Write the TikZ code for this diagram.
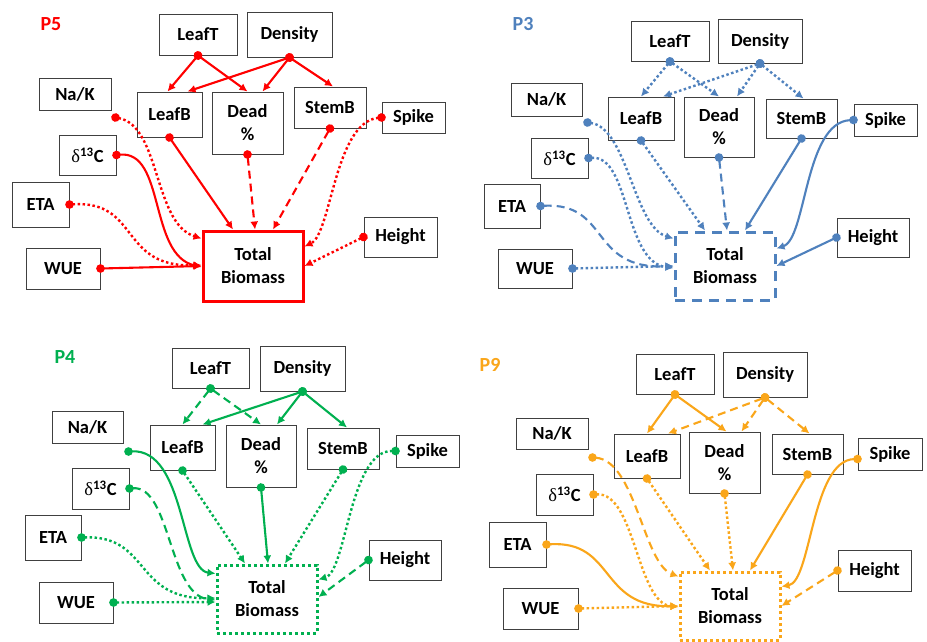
\documentclass[tikz,border=0pt]{standalone}
\usepackage{fontspec}
\setmainfont{Carlito}
\newfontfamily\dltfont{Liberation Serif}
\usetikzlibrary{arrows.meta}
\definecolor{cPfive}{RGB}{255,0,0}
\definecolor{cPthree}{RGB}{79,129,189}
\definecolor{cPfour}{RGB}{0,176,80}
\definecolor{cPnine}{RGB}{250,166,26}
\newcommand\boxfont{\fontsize{18.5}{23}\selectfont\bfseries}
\newcommand\dC{{\dltfont\mdseries δ}\textsuperscript{13}C}
\begin{document}
\begin{tikzpicture}[x=1pt,y=-1pt,
  box/.style={draw=black!75, line width=1pt, fill=white, text=black, align=center, inner sep=0pt, font=\boxfont},
  bx/.style n args={2}{box, minimum width=#1pt, minimum height=#2pt},
  tot/.style={line width=3pt},
  plab/.style={font=\fontsize{20}{20}\selectfont\bfseries},
  con/.style={line width=2.1pt, arrows={Circle[length=8.5pt]-Latex[length=8pt,width=8pt]}, shorten <=-4.25pt},
  sol/.style={con},
  dsh/.style={con, dash pattern=on 8pt off 5pt},
  dtt/.style={con, line width=2.4pt, dash pattern=on 2.5pt off 2.5pt}]
\fill[white] (0,0) rectangle (927,641);
\useasboundingbox (0,0) rectangle (927,641);

% ---------------- P5 ----------------
\node[plab, text=cPfive] (labA) at (51,24) {P5};
\node[bx={78}{41}] (aLeafT) at (198,34.5) {LeafT};
\node[bx={85}{45}] (aDens) at (289.5,34.5) {Density};
\node[bx={72}{32}] (aNaK) at (75,94) {Na/K};
\node[bx={65}{45}] (aLeafB) at (169.5,114.5) {LeafB};
\node[bx={71}{62}] (aDead) at (247.5,123) {Dead\\\%};
\node[bx={72}{41}] (aStemB) at (330,107.5) {StemB};
\node[bx={63}{31}] (aSpike) at (413.5,117.5) {Spike};
\node[bx={57}{40}] (aC) at (87.5,155) {\dC};
\node[bx={57}{45}] (aETA) at (40.5,204.5) {ETA};
\node[bx={74}{41}] (aWUE) at (63,268.5) {WUE};
\node[bx={100}{70}, tot, draw=cPfive] (aTot) at (253,266) {Total\\Biomass};
\node[bx={73}{40}] (aH) at (400.5,237) {Height};
\begin{scope}[color=cPfive]
\draw[sol] (aLeafT.south) -- ([xshift=-2pt]aLeafB.north);
\draw[sol] (aLeafT.south) -- (aDead.north);
\draw[sol] (aDens.south) -- ([xshift=18pt]aLeafB.north);
\draw[sol] (aDens.south) -- ([xshift=15pt]aDead.north);
\draw[sol] (aDens.south) -- ([xshift=3pt]aStemB.north);
\draw[dtt] ([xshift=4pt,yshift=-7pt]aNaK.south east) .. controls +(45,8) and +(-48,-15) .. ([yshift=-9pt]aTot.north west);
\draw[sol] (aLeafB.south) -- ([xshift=-20pt]aTot.north);
\draw[dsh] (aDead.south) -- ([xshift=2pt]aTot.north);
\draw[dsh] (aStemB.south) -- ([xshift=20pt]aTot.north);
\draw[dtt] (aSpike.west) .. controls +(-47,4.5) and +(27,-13) .. ([yshift=-17pt]aTot.north east);
\draw[sol] (aC.east) .. controls +(49,-5) and +(-53,-12) .. ([yshift=-1pt]aTot.west);
\draw[dtt] (aETA.east) .. controls +(71,-4.5) and +(-83,3) .. ([yshift=1pt]aTot.west);
\draw[sol] (aWUE.east) -- (aTot.west);
\draw[dtt] (aH.west) -- (aTot.east);
\end{scope}

% ---------------- P3 ----------------
\node[plab, text=cPthree] (labB) at (523,24) {P3};
\node[bx={78}{40}] (bLeafT) at (670,41) {LeafT};
\node[bx={84}{44}] (bDens) at (760,41) {Density};
\node[bx={71}{33}] (bNaK) at (546.5,99.5) {Na/K};
\node[bx={66}{43}] (bLeafB) at (641,118.5) {LeafB};
\node[bx={70}{60}] (bDead) at (719,127) {Dead\\\%};
\node[bx={71}{39}] (bStemB) at (801.5,118.5) {StemB};
\node[bx={63}{32}] (bSpike) at (885.5,120) {Spike};
\node[bx={57}{40}] (bC) at (559.5,158) {\dC};
\node[bx={56}{44}] (bETA) at (512,206) {ETA};
\node[bx={74}{39}] (bWUE) at (535,268.5) {WUE};
\node[bx={100}{68}, tot, draw=cPthree, dash pattern=on 10pt off 7pt] (bTot) at (725,266) {Total\\Biomass};
\node[bx={72}{39}] (bH) at (873,237.5) {Height};
\begin{scope}[color=cPthree]
\draw[dtt] (bLeafT.south) -- (bLeafB.north);
\draw[dtt] (bLeafT.south) -- (bDead.north);
\draw[dtt] (bDens.south) -- ([xshift=22pt]bLeafB.north);
\draw[dtt] (bDens.south) -- ([xshift=18pt]bDead.north);
\draw[dtt] (bDens.south) -- ([xshift=2pt]bStemB.north);
\draw[dtt] ([xshift=5pt,yshift=-6pt]bNaK.south east) .. controls +(40,5) and +(-40,-12) .. ([yshift=-8pt]bTot.north west);
\draw[dtt] (bLeafB.south) -- ([xshift=-20pt]bTot.north);
\draw[dsh] (bDead.south) -- ([xshift=2pt]bTot.north);
\draw[sol] (bStemB.south) -- ([xshift=20pt]bTot.north);
\draw[sol] (bSpike.west) .. controls +(-49,2) and +(30,-10) .. ([yshift=-18pt]bTot.north east);
\draw[dtt] (bC.east) .. controls +(42,-3) and +(-50,-6) .. ([yshift=-2pt]bTot.west);
\draw[dsh] (bETA.east) .. controls +(70,-4) and +(-85,4) .. (bTot.west);
\draw[dtt] (bWUE.east) -- (bTot.west);
\draw[sol] (bH.west) -- (bTot.east);
\end{scope}

% ---------------- P4 ----------------
\node[plab, text=cPfour] (labC) at (65,357) {P4};
\node[bx={77}{40}] (cLeafT) at (210.5,368) {LeafT};
\node[bx={85}{45}] (cDens) at (302.5,368.5) {Density};
\node[bx={71}{32}] (cNaK) at (87.5,427) {Na/K};
\node[bx={65}{45}] (cLeafB) at (182.5,447.5) {LeafB};
\node[bx={70}{62}] (cDead) at (261,456) {Dead\\\%};
\node[bx={72}{41}] (cStemB) at (343,448.5) {StemB};
\node[bx={63}{32}] (cSpike) at (427.5,451) {Spike};
\node[bx={57}{41}] (cC) at (100.5,488.5) {\dC};
\node[bx={56}{45}] (cETA) at (53,537.5) {ETA};
\node[bx={74}{41}] (cWUE) at (76,602.5) {WUE};
\node[bx={100}{68}, tot, draw=cPfour, dash pattern=on 3pt off 3pt] (cTot) at (267,599) {Total\\Biomass};
\node[bx={72}{40}] (cH) at (405,560) {Height};
\begin{scope}[color=cPfour]
\draw[dsh] (cLeafT.south) -- (cLeafB.north);
\draw[dsh] (cLeafT.south) -- (cDead.north);
\draw[sol] (cDens.south) -- ([xshift=20pt]cLeafB.north);
\draw[sol] (cDens.south) -- ([xshift=16pt]cDead.north);
\draw[sol] (cDens.south) -- ([xshift=4pt]cStemB.north);
\draw[sol] ([xshift=5pt,yshift=-8pt]cNaK.south east) .. controls +(57,-3) and +(-35,-4) .. ([yshift=-10pt]cTot.north west);
\draw[dtt] (cLeafB.south) -- ([xshift=-22pt]cTot.north);
\draw[sol] (cDead.south) -- ([xshift=1pt]cTot.north);
\draw[dtt] (cStemB.south) -- ([xshift=18pt]cTot.north);
\draw[dtt] (cSpike.west) .. controls +(-46,-1) and +(28,-8) .. ([yshift=-16pt]cTot.north east);
\draw[dsh] (cC.east) .. controls +(41,-3.5) and +(-47,-5) .. ([yshift=-1pt]cTot.west);
\draw[dtt] (cETA.east) .. controls +(69,-2.5) and +(-82,2) .. ([yshift=1pt]cTot.west);
\draw[dtt] (cWUE.east) -- ([yshift=-3pt]cTot.west);
\draw[dsh] (cH.west) -- ([yshift=2pt]cTot.east);
\end{scope}

% ---------------- P9 ----------------
\node[plab, text=cPnine] (labD) at (490,365) {P9};
\node[bx={78}{40}] (dLeafT) at (675,374) {LeafT};
\node[bx={84}{45}] (dDens) at (765,374.5) {Density};
\node[bx={72}{31}] (dNaK) at (552,433.5) {Na/K};
\node[bx={66}{44}] (dLeafB) at (647,456) {LeafB};
\node[bx={71}{61}] (dDead) at (724.5,462.5) {Dead\\\%};
\node[bx={71}{40}] (dStemB) at (807.5,454) {StemB};
\node[bx={64}{32}] (dSpike) at (890,454) {Spike};
\node[bx={57}{41}] (dC) at (564.5,494.5) {\dC};
\node[bx={57}{45}] (dETA) at (517.5,544.5) {ETA};
\node[bx={75}{41}] (dWUE) at (540.5,608.5) {WUE};
\node[bx={100}{68}, tot, draw=cPnine, dash pattern=on 3pt off 3pt] (dTot) at (730,606) {Total\\Biomass};
\node[bx={73}{41}] (dH) at (874.5,570.5) {Height};
\begin{scope}[color=cPnine]
\draw[sol] (dLeafT.south) -- (dLeafB.north);
\draw[sol] (dLeafT.south) -- ([xshift=2pt]dDead.north);
\draw[dsh] (dDens.south) -- ([xshift=21pt]dLeafB.north);
\draw[dsh] (dDens.south) -- ([xshift=17pt]dDead.north);
\draw[dsh] (dDens.south) -- ([xshift=2pt]dStemB.north);
\draw[dsh] ([xshift=4pt,yshift=-8pt]dNaK.south east) .. controls +(43,3) and +(-35,-13) .. ([yshift=-6pt]dTot.north west);
\draw[dtt] (dLeafB.south) -- ([xshift=-20pt]dTot.north);
\draw[dtt] (dDead.south) -- ([xshift=3pt]dTot.north);
\draw[sol] (dStemB.south) -- ([xshift=20pt]dTot.north);
\draw[sol] ([yshift=-5pt]dSpike.west) .. controls +(-46,1) and +(30,-5) .. ([yshift=-16pt]dTot.north east);
\draw[dtt] (dC.east) .. controls +(42,-2.5) and +(-42,-4) .. ([yshift=-1pt]dTot.west);
\draw[sol] (dETA.east) .. controls +(69,-4.5) and +(-80,2) .. (dTot.west);
\draw[dtt] (dWUE.east) -- (dTot.west);
\draw[dsh] (dH.west) -- (dTot.east);
\end{scope}
\end{tikzpicture}
\end{document}
